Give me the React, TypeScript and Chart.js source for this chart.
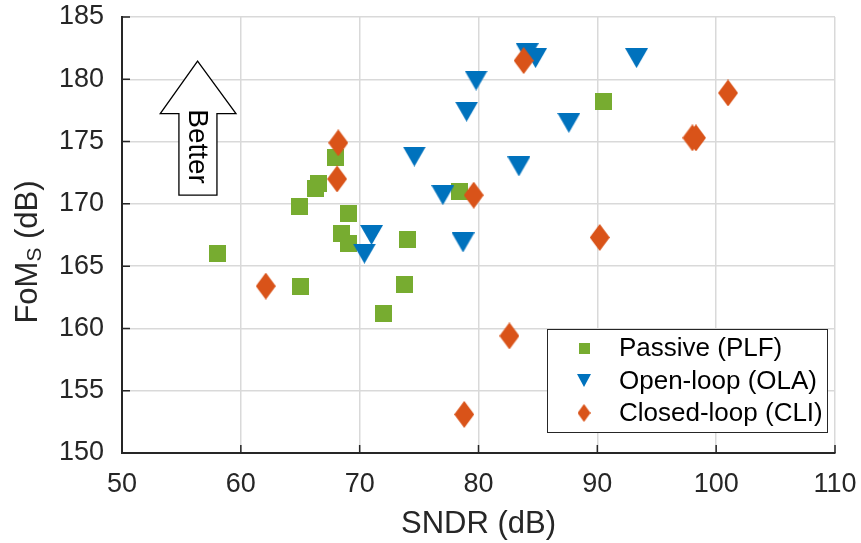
import React, { useEffect, useRef } from 'react';
import { Chart, registerables } from 'chart.js';

Chart.register(...registerables);

// ---- data ----
const passiveX = [58.0, 65.0, 64.9, 66.3, 66.5, 68.0, 68.5, 69.1, 69.1, 72.0, 73.8, 74.0, 78.4, 90.5];
const passiveY = [166.0, 163.4, 169.8, 171.2, 171.6, 173.7, 167.6, 169.2, 166.8, 161.2, 163.5, 167.1, 171.0, 178.2];

const openX = [70.4, 71.0, 74.6, 77.0, 78.7, 79.0, 79.8, 84.1, 84.8, 83.4, 87.6, 93.3];
const openY = [166.0, 167.5, 173.8, 170.7, 166.9, 177.4, 179.9, 182.1, 181.7, 173.0, 176.5, 181.7];

const closedX = [62.1, 68.2, 68.1, 79.6, 83.8, 82.6, 78.8, 90.2, 98.0, 98.3, 101.0];
const closedY = [163.4, 174.9, 172.0, 170.7, 181.5, 159.4, 153.1, 167.3, 175.3, 175.3, 178.9];

const seriesLabels = ['Passive (PLF)', 'Open-loop (OLA)', 'Closed-loop (CLI)'];

const xTicks = [50, 60, 70, 80, 90, 100, 110];
const yTicks = [150, 155, 160, 165, 170, 175, 180, 185];

const xTitle = 'SNDR (dB)';
const yTitleMain = 'FoM';
const yTitleSub = 'S';
const yTitleTail = ' (dB)';
const arrowText = 'Better';

// "Better" arrow outline, in data units (x, y)
const arrowXs = [56.36, 59.59, 57.99, 57.99, 54.79, 54.79, 53.22];
const arrowYs = [181.45, 177.25, 177.25, 170.7, 170.7, 177.25, 177.25];
const arrowTextPos = [56.3, 174.6];

const GREEN = '#77AC30';
const BLUE = '#0072BD';
const ORANGE = '#D95319';
const INK = '#262626';
const FONT = '"Liberation Sans", Arial, Helvetica, sans-serif';

function makeMarker(shape: string, w: number, h: number, color: string): HTMLCanvasElement {
  const c = document.createElement('canvas');
  c.width = w;
  c.height = h;
  const g = c.getContext('2d')!;
  g.fillStyle = color;
  g.beginPath();
  if (shape === 'square') {
    g.rect(0, 0, w, h);
  } else if (shape === 'tri') {
    g.moveTo(0, 0);
    g.lineTo(w, 0);
    g.lineTo(w / 2, h);
    g.closePath();
  } else {
    g.moveTo(w / 2, 0);
    g.lineTo(w, h / 2);
    g.lineTo(w / 2, h);
    g.lineTo(0, h / 2);
    g.closePath();
  }
  g.fill();
  return c;
}

function noPad(s: any) {
  s.paddingLeft = 0;
  s.paddingRight = 0;
  s.paddingTop = 0;
  s.paddingBottom = 0;
}

export default function App() {
  const ref = useRef<HTMLCanvasElement>(null);

  useEffect(() => {
    document.body.style.margin = '0';
    const sq = makeMarker('square', 17, 17, GREEN);
    const tri = makeMarker('tri', 23, 20, BLUE);
    const dia = makeMarker('dia', 20, 27, ORANGE);
    const sqL = makeMarker('square', 11, 11, GREEN);
    const triL = makeMarker('tri', 14, 13, BLUE);
    const diaL = makeMarker('dia', 13, 18, ORANGE);
    const legendMarkers = [sqL, triL, diaL];

    const overlay = {
      id: 'overlay',
      beforeDatasetsDraw(chart: any) {
        const { ctx, chartArea: a, scales } = chart;
        const x = scales.x;
        const y = scales.y;
        ctx.save();
        // inward tick marks
        ctx.strokeStyle = INK;
        ctx.lineWidth = 1.5;
        ctx.beginPath();
        for (const v of xTicks) {
          const px = x.getPixelForValue(v);
          ctx.moveTo(px, a.bottom);
          ctx.lineTo(px, a.bottom - 8);
        }
        for (const v of yTicks) {
          const py = y.getPixelForValue(v);
          ctx.moveTo(a.left, py);
          ctx.lineTo(a.left + 8, py);
        }
        ctx.stroke();
        // arrow
        ctx.fillStyle = '#ffffff';
        ctx.strokeStyle = '#000000';
        ctx.lineWidth = 1.3;
        ctx.beginPath();
        arrowXs.forEach((vx, i) => {
          const px = x.getPixelForValue(vx);
          const py = y.getPixelForValue(arrowYs[i]);
          if (i === 0) ctx.moveTo(px, py);
          else ctx.lineTo(px, py);
        });
        ctx.closePath();
        ctx.fill();
        ctx.stroke();
        ctx.translate(x.getPixelForValue(arrowTextPos[0]), y.getPixelForValue(arrowTextPos[1]));
        ctx.rotate(Math.PI / 2);
        ctx.fillStyle = '#000000';
        ctx.font = `28px ${FONT}`;
        ctx.textAlign = 'center';
        ctx.textBaseline = 'middle';
        ctx.fillText(arrowText, 0, 0);
        ctx.restore();
      },
      afterDraw(chart: any) {
        const { ctx, chartArea: a } = chart;
        ctx.save();
        // legend
        const bw = 280;
        const bh = 103;
        const bx = a.right - 8 - bw;
        const by = a.bottom - 21 - bh;
        ctx.fillStyle = '#ffffff';
        ctx.fillRect(bx, by, bw, bh);
        ctx.strokeStyle = INK;
        ctx.lineWidth = 1;
        ctx.strokeRect(bx + 0.5, by + 0.5, bw, bh);
        ctx.font = `26px ${FONT}`;
        ctx.fillStyle = '#000000';
        ctx.textAlign = 'left';
        ctx.textBaseline = 'middle';
        seriesLabels.forEach((lab, i) => {
          const cy = by + 19 + i * 32.5;
          const m = legendMarkers[i];
          ctx.drawImage(m, bx + 37 - m.width / 2, cy - m.height / 2);
          ctx.fillText(lab, bx + 72, cy + 1);
        });
        // y title with subscript
        ctx.fillStyle = INK;
        const cy = (a.top + a.bottom) / 2 + 17;
        ctx.translate(27, cy);
        ctx.rotate(-Math.PI / 2);
        const big = `31px ${FONT}`;
        const small = `21px ${FONT}`;
        ctx.font = big;
        const w1 = ctx.measureText(yTitleMain).width;
        const w3 = ctx.measureText(yTitleTail).width;
        ctx.font = small;
        const w2 = ctx.measureText(yTitleSub).width;
        let sx = -(w1 + w2 + w3) / 2;
        ctx.textBaseline = 'alphabetic';
        ctx.font = big;
        ctx.fillText(yTitleMain, sx, 10);
        sx += w1;
        ctx.font = small;
        ctx.fillText(yTitleSub, sx, 14);
        sx += w2;
        ctx.font = big;
        ctx.fillText(yTitleTail, sx, 10);
        ctx.restore();
      },
    };

    const chart = new Chart(ref.current!, {
      type: 'scatter',
      data: {
        datasets: [
          {
            label: seriesLabels[0],
            data: passiveX.map((v, i) => ({ x: v, y: passiveY[i] })),
            pointStyle: sq as any,
            order: 2,
          },
          {
            label: seriesLabels[1],
            data: openX.map((v, i) => ({ x: v, y: openY[i] })),
            pointStyle: tri as any,
            order: 1,
          },
          {
            label: seriesLabels[2],
            data: closedX.map((v, i) => ({ x: v, y: closedY[i] })),
            pointStyle: dia as any,
            order: 0,
          },
        ],
      },
      options: {
        responsive: false,
        animation: false,
        layout: { padding: { top: 17, right: 26, left: 0, bottom: 0 } },
        plugins: {
          legend: { display: false },
          tooltip: { enabled: false },
          title: { display: false },
        },
        scales: {
          x: {
            type: 'linear',
            min: 50,
            max: 110,
            afterBuildTicks: (s: any) => {
              s.ticks = xTicks.map((v) => ({ value: v }));
            },
            afterFit: (s: any) => {
              s.height = 90;
              noPad(s);
            },
            ticks: {
              color: INK,
              font: { family: FONT, size: 27 },
              padding: 15,
              maxRotation: 0,
            },
            grid: { color: '#d9d9d9', lineWidth: 1.5, drawTicks: false },
            border: { color: INK, width: 2 },
            title: {
              display: true,
              text: xTitle,
              color: INK,
              font: { family: FONT, size: 31 },
              padding: { top: 0, bottom: 0 },
            },
          },
          y: {
            type: 'linear',
            min: 150,
            max: 185,
            afterBuildTicks: (s: any) => {
              s.ticks = yTicks.map((v) => ({ value: v }));
            },
            afterFit: (s: any) => {
              s.width = 122;
              noPad(s);
            },
            ticks: {
              color: INK,
              font: { family: FONT, size: 27 },
              padding: 18,
            },
            grid: { color: '#d9d9d9', lineWidth: 1.5, drawTicks: false },
            border: { color: INK, width: 2 },
          },
        },
      },
      plugins: [overlay],
    });
    return () => chart.destroy();
  }, []);

  return (
    <div style={{ width: 861, height: 543, position: 'relative' }}>
      <canvas ref={ref} width={861} height={543} style={{ width: 861, height: 543, display: 'block' }} />
    </div>
  );
}
